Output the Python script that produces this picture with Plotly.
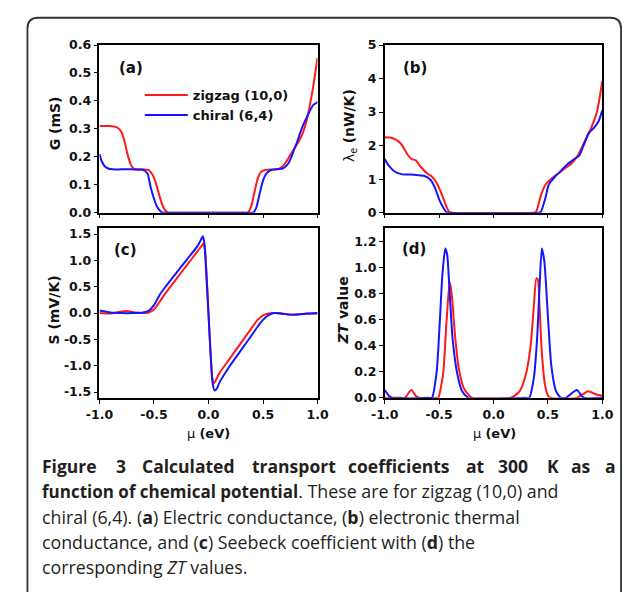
import plotly.graph_objects as go

W, H = 633, 592

# ---------------- data ----------------
# (a) Electric conductance G (mS)
g_zz_mu = [-1.0, -0.9, -0.84, -0.8, -0.77, -0.74, -0.71, -0.68, -0.6, -0.55, -0.52, -0.49, -0.46,
           -0.43, -0.4, -0.37, -0.3, 0.3, 0.36, 0.39, 0.42, 0.45, 0.48, 0.52, 0.6, 0.65, 0.7, 0.74,
           0.78, 0.82, 0.86, 0.9, 0.93, 0.96, 1.0]
g_zz = [0.31, 0.31, 0.305, 0.29, 0.255, 0.205, 0.17, 0.157, 0.155, 0.153, 0.14, 0.115, 0.075,
        0.035, 0.01, 0.0, 0.0, 0.0, 0.0, 0.02, 0.07, 0.12, 0.145, 0.153, 0.155, 0.158, 0.175, 0.2,
        0.225, 0.25, 0.28, 0.33, 0.385, 0.45, 0.555]
g_ch_mu = [-1.0, -0.98, -0.95, -0.92, -0.88, -0.8, -0.7, -0.6, -0.56, -0.53, -0.5, -0.47, -0.44,
           -0.42, -0.38, 0.38, 0.41, 0.44, 0.47, 0.5, 0.53, 0.57, 0.62, 0.68, 0.72, 0.75, 0.78,
           0.81, 0.84, 0.87, 0.9, 0.93, 0.96, 1.0]
g_ch = [0.21, 0.185, 0.165, 0.158, 0.155, 0.155, 0.155, 0.153, 0.14, 0.09, 0.05, 0.02, 0.005,
        0.0, 0.0, 0.0, 0.0, 0.02, 0.07, 0.115, 0.14, 0.152, 0.155, 0.158, 0.17, 0.19, 0.22, 0.25,
        0.285, 0.315, 0.34, 0.365, 0.385, 0.396]

# (b) Electronic thermal conductance (nW/K)
k_zz_mu = [-1.0, -0.95, -0.906, -0.847, -0.788, -0.753, -0.714, -0.67, -0.61, -0.567, -0.523,
           -0.47, -0.43, -0.405, -0.38, 0.36, 0.39, 0.434, 0.478, 0.537, 0.596, 0.655, 0.714,
           0.773, 0.832, 0.891, 0.95, 1.0]
k_zz = [2.25, 2.24, 2.19, 2.04, 1.72, 1.6, 1.56, 1.37, 1.17, 1.08, 0.89, 0.5, 0.16, 0.02, 0.0,
        0.0, 0.02, 0.5, 0.84, 1.03, 1.17, 1.32, 1.46, 1.7, 2.09, 2.48, 3.0, 3.92]
k_ch_mu = [-1.0, -0.965, -0.906, -0.847, -0.73, -0.64, -0.58, -0.538, -0.5, -0.464, -0.434,
           -0.415, 0.41, 0.434, 0.478, 0.508, 0.567, 0.626, 0.685, 0.744, 0.788, 0.832, 0.876,
           0.92, 0.965, 1.0]
k_ch = [1.6, 1.41, 1.22, 1.15, 1.13, 1.1, 0.98, 0.74, 0.4, 0.16, 0.02, 0.0, 0.0, 0.02, 0.45,
        0.84, 1.08, 1.27, 1.46, 1.6, 1.7, 2.04, 2.38, 2.52, 2.72, 3.05]

# (c) Seebeck coefficient S (mV/K)
s_zz_mu = [-1.0, -0.9, -0.8, -0.75, -0.7, -0.6, -0.55, -0.5, -0.45, -0.4, -0.3, -0.2, -0.1,
           -0.065, -0.045, -0.032, 0.032, 0.045, 0.06, 0.1, 0.2, 0.3, 0.4, 0.45, 0.5, 0.55, 0.6,
           0.65, 0.75, 0.85, 1.0]
s_zz = [0.0, -0.01, 0.03, 0.04, 0.02, 0.0, 0.01, 0.07, 0.21, 0.36, 0.635, 0.905, 1.175, 1.27,
        1.32, 1.2, -1.2, -1.33, -1.3, -1.14, -0.85, -0.56, -0.27, -0.13, -0.045, -0.01, 0.0,
        0.0, -0.03, -0.02, -0.01]
s_ch_mu = [-1.0, -0.95, -0.9, -0.8, -0.7, -0.6, -0.55, -0.5, -0.45, -0.4, -0.3, -0.2, -0.1,
           -0.07, -0.052, -0.038, 0.038, 0.056, 0.075, 0.1, 0.2, 0.3, 0.4, 0.45, 0.5, 0.55, 0.6,
           0.7, 0.8, 0.9, 1.0]
s_ch = [0.05, 0.03, 0.01, 0.0, 0.0, 0.01, 0.04, 0.15, 0.34, 0.485, 0.75, 1.01, 1.275, 1.39, 1.46,
        1.33, -1.33, -1.47, -1.44, -1.32, -0.99, -0.7, -0.41, -0.26, -0.13, -0.04, 0.0, -0.02,
        -0.03, -0.01, 0.0]

# (d) ZT value
zt_zz_mu = [-1.0, -0.85, -0.815, -0.757, -0.713, -0.68, -0.52, -0.508, -0.464, -0.435, -0.414,
            -0.4, -0.382, -0.353, -0.318, -0.274, -0.215, -0.19, 0.15, 0.18, 0.239, 0.297,
            0.341, 0.37, 0.394, 0.408, 0.423, 0.444, 0.473, 0.502, 0.53, 0.766, 0.824, 0.868,
            0.94, 1.0]
zt_zz = [0.0, 0.0, 0.0, 0.06, 0.015, 0.0, 0.0, 0.0, 0.18, 0.55, 0.8, 0.89, 0.78, 0.47, 0.22,
         0.075, 0.01, 0.0, 0.0, 0.01, 0.05, 0.18, 0.4, 0.7, 0.92, 0.91, 0.7, 0.35, 0.1, 0.015,
         0.0, 0.0, 0.03, 0.05, 0.028, 0.015]
zt_ch_mu = [-1.0, -0.96, -0.93, -0.6, -0.567, -0.523, -0.493, -0.47, -0.444, -0.426, -0.406,
            -0.376, -0.332, -0.288, -0.23, 0.29, 0.327, 0.37, 0.4, 0.423, 0.444, 0.467, 0.502,
            0.531, 0.575, 0.62, 0.663, 0.766, 0.81, 0.84, 1.0]
zt_ch = [0.06, 0.015, 0.0, 0.0, 0.0, 0.2, 0.6, 0.95, 1.15, 1.1, 0.85, 0.45, 0.18, 0.05, 0.0,
         0.0, 0.0, 0.15, 0.45, 0.85, 1.15, 1.05, 0.6, 0.25, 0.05, 0.0, 0.0, 0.06, 0.015, 0.0,
         0.0]

series_names = ["zigzag (10,0)", "chiral (6,4)"]
series_colors = ["#ff1a1a", "#1414ff"]

x_tickvals = [-1.0, -0.5, 0.0, 0.5, 1.0]
x_ticktext = ["-1.0", "-0.5", "0.0", "0.5", "1.0"]
ya_tickvals = [0.0, 0.1, 0.2, 0.3, 0.4, 0.5, 0.6]
ya_ticktext = ["0.0", "0.1", "0.2", "0.3", "0.4", "0.5", "0.6"]
yb_tickvals = [0, 1, 2, 3, 4, 5]
yb_ticktext = ["0", "1", "2", "3", "4", "5"]
yc_tickvals = [-1.5, -1.0, -0.5, 0.0, 0.5, 1.0, 1.5]
yc_ticktext = ["-1.5", "-1.0", "-0.5", "0.0", "0.5", "1.0", "1.5"]
yd_tickvals = [0.0, 0.2, 0.4, 0.6, 0.8, 1.0, 1.2]
yd_ticktext = ["0.0", "0.2", "0.4", "0.6", "0.8", "1.0", "1.2"]

caption_line1 = ["Figure", "3", "Calculated", "transport", "coefficients", "at", "300", "K", "as", "a"]
caption_line2 = ('<b><span style="font-size:17px">function of chemical potential</span></b>. '
                 'These are for zigzag (10,0) and')
caption_line3 = "chiral (6,4). (<b>a</b>) Electric conductance, (<b>b</b>) electronic thermal"
caption_line4 = "conductance, and (<b>c</b>) Seebeck coefficient with (<b>d</b>) the"
caption_line5 = "corresponding <i>ZT</i> values."

# ---------------- figure ----------------
fig = go.Figure()

def px_x(p):
    return p / W

def px_y(p):
    return 1 - p / H

panels = [
    ("x", "y", (g_zz_mu, g_zz), (g_ch_mu, g_ch), True),
    ("x2", "y2", (k_zz_mu, k_zz), (k_ch_mu, k_ch), False),
    ("x3", "y3", (s_zz_mu, s_zz), (s_ch_mu, s_ch), False),
    ("x4", "y4", (zt_zz_mu, zt_zz), (zt_ch_mu, zt_ch), False),
]
for xa, ya, zz, ch, show in panels:
    for (mu, val), name, col in zip([zz, ch], series_names, series_colors):
        fig.add_trace(go.Scatter(
            x=mu, y=val, mode="lines", name=name, xaxis=xa, yaxis=ya,
            line=dict(color=col, width=2, shape="spline", smoothing=0.6),
            showlegend=show,
        ))

BOLD = "DejaVu Sans"
tickfont = dict(family=BOLD, size=12.5, color="#111", weight="bold")
common_axis = dict(showline=True, linecolor="#000", linewidth=1.5, mirror=True,
                   ticks="outside", ticklen=4, tickwidth=1.2, tickcolor="#000",
                   showgrid=False, zeroline=False, tickfont=tickfont)

xdom_left = [px_x(89), px_x(316)]
xdom_right = [px_x(386), px_x(612.5)]
ydom_top = [px_y(210), px_y(38)]
ydom_bot = [px_y(400), px_y(226)]

fig.update_layout(
    width=W, height=H,
    margin=dict(l=0, r=0, t=0, b=0),
    paper_bgcolor="white", plot_bgcolor="white",
    xaxis=dict(domain=xdom_left, anchor="y", range=[-1, 1], tickvals=x_tickvals,
               ticktext=x_ticktext, showticklabels=False, **common_axis),
    yaxis=dict(domain=ydom_top, anchor="x", range=[0, 0.6], tickvals=ya_tickvals,
               ticktext=ya_ticktext, **common_axis),
    xaxis2=dict(domain=xdom_right, anchor="y2", range=[-1, 1], tickvals=x_tickvals,
                ticktext=x_ticktext, showticklabels=False, **common_axis),
    yaxis2=dict(domain=ydom_top, anchor="x2", range=[0, 5], tickvals=yb_tickvals,
                ticktext=yb_ticktext, **common_axis),
    xaxis3=dict(domain=xdom_left, anchor="y3", range=[-1, 1], tickvals=x_tickvals,
                ticktext=x_ticktext, **common_axis),
    yaxis3=dict(domain=ydom_bot, anchor="x3", range=[-1.61, 1.61], tickvals=yc_tickvals,
                ticktext=yc_ticktext, **common_axis),
    xaxis4=dict(domain=xdom_right, anchor="y4", range=[-1, 1], tickvals=x_tickvals,
                ticktext=x_ticktext, **common_axis),
    yaxis4=dict(domain=ydom_bot, anchor="x4", range=[0, 1.305], tickvals=yd_tickvals,
                ticktext=yd_ticktext, **common_axis),
    legend=dict(x=px_x(131), y=px_y(74), xanchor="left", yanchor="top",
                bgcolor="rgba(0,0,0,0)", borderwidth=0,
                font=dict(family=BOLD, size=13, color="#111", weight="bold"),
                tracegroupgap=0, itemwidth=43),
    showlegend=True,
)

ann = []
def add_text(text, x, y, size, angle=0, xanchor="center", yanchor="middle", family=BOLD, color="#111"):
    ann.append(dict(text=text, x=px_x(x), y=px_y(y), xref="paper", yref="paper",
                    showarrow=False, textangle=angle, xanchor=xanchor, yanchor=yanchor,
                    font=dict(family=family, size=size, color=color)))

# axis titles
add_text("<b>G (mS)</b>", 43, 118, 14, angle=-90)
add_text("λ<sub>e</sub> <b>(nW/K)</b>", 350, 121, 14, angle=-90)
add_text("<b>S (mV/K)</b>", 42, 310, 14, angle=-90)
add_text("<b><i>ZT</i> value</b>", 343, 310, 14, angle=-90)
add_text("μ <b>(eV)</b>", 202, 437, 13)
add_text("μ <b>(eV)</b>", 500, 437, 13)

# panel labels
add_text("<b>(a)</b>", 107, 62, 15, xanchor="left")
add_text("<b>(b)</b>", 403, 62, 15, xanchor="left")
add_text("<b>(c)</b>", 102, 248, 15, xanchor="left")
add_text("<b>(d)</b>", 402, 247, 15, xanchor="left")

# caption (first line justified word by word)
cap_font = "Open Sans, Noto Sans"
cap_col = "#231f20"
line1_x = [27, 104, 131, 246, 346, 469, 502, 553, 578, 613]
for w, xx in zip(caption_line1, line1_x):
    add_text("<b>" + w + "</b>", xx, 470, 17.5, xanchor="left", family=cap_font, color=cap_col)
for i, t in enumerate([caption_line2, caption_line3, caption_line4, caption_line5]):
    add_text(t, 27, 496 + 26 * i, 17.8, xanchor="left", family=cap_font, color=cap_col)

fig.update_layout(annotations=ann)

# outer rounded frame
x0, y0, x1, y1, r = 14, 10, 632, 640, 11
rx, ry = r / W, r / H
X0, X1 = px_x(x0), px_x(x1)
Y0, Y1 = px_y(y0), px_y(y1)
path = (f"M {X0},{Y1} L {X0},{Y0 - ry} Q {X0},{Y0} {X0 + rx},{Y0} "
        f"L {X1 - rx},{Y0} Q {X1},{Y0} {X1},{Y0 - ry} L {X1},{Y1}")
fig.add_shape(type="path", path=path, xref="paper", yref="paper",
              line=dict(color="#333", width=1.8))

fig.write_html("out.html")
